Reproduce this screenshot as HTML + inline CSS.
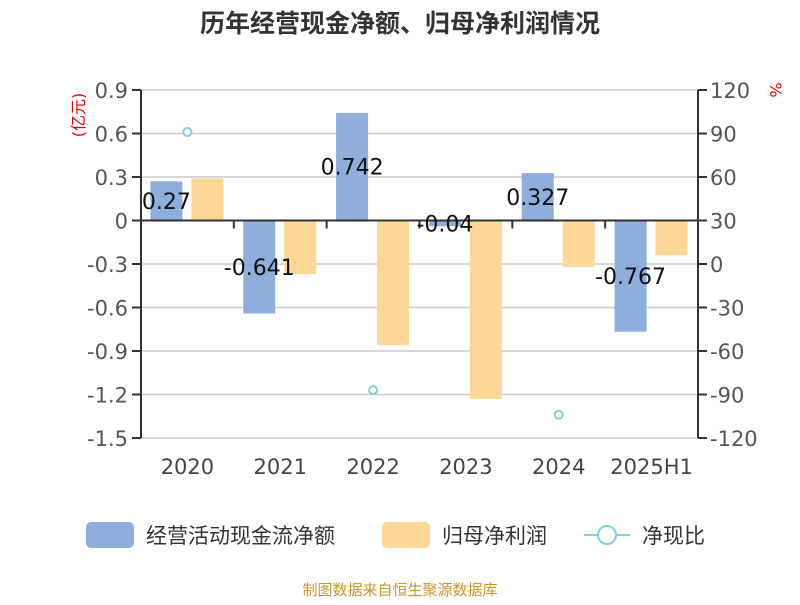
<!DOCTYPE html>
<html><head><meta charset="utf-8"><style>
body{margin:0;background:#fff;}
svg text{font-family:"DejaVu Sans","Liberation Sans","Noto Sans CJK SC",sans-serif;}
</style></head><body>
<svg id="c" width="800" height="600" xmlns="http://www.w3.org/2000/svg">
<text x="400" y="32" text-anchor="middle" font-size="25" font-weight="bold" fill="#333">历年经营现金净额、归母净利润情况</text>
<text transform="translate(84,115) rotate(-90)" text-anchor="middle" font-size="16" fill="#e00">(亿元)</text>
<text transform="translate(770,90) rotate(90)" text-anchor="middle" font-size="16" fill="#e00">%</text>
<g id="grid"></g><g id="bars"></g><g id="axes"></g><g id="labels"></g><g id="pts"></g>
<g>
<rect x="86" y="522" width="48" height="26" rx="5" fill="#8eaedc"/>
<text x="146" y="543" font-size="21" fill="#333">经营活动现金流净额</text>
<rect x="382" y="522" width="48" height="26" rx="5" fill="#fdd797"/>
<text x="442" y="543" font-size="21" fill="#333">归母净利润</text>
<line x1="584" y1="535" x2="630" y2="535" stroke="#86d0d8" stroke-width="2"/>
<circle cx="607" cy="535" r="9" fill="#fff" stroke="#86d0d8" stroke-width="2"/>
<text x="642" y="543" font-size="21" fill="#333">净现比</text>
</g>
<text x="400" y="595" text-anchor="middle" font-size="15" fill="#c8962a">制图数据来自恒生聚源数据库</text>
</svg>
<script>
const categories=["2020","2021","2022","2023","2024","2025H1"];
const cashflow=[0.27,-0.641,0.742,-0.04,0.327,-0.767];
const profit=[0.29,-0.37,-0.86,-1.23,-0.32,-0.24];
const ratio=[91,null,-87,null,-104,null];
const leftTicks=["0.9","0.6","0.3","0","-0.3","-0.6","-0.9","-1.2","-1.5"];
const rightTicks=["120","90","60","30","0","-30","-60","-90","-120"];
const NS="http://www.w3.org/2000/svg";
const X0=141,X1=698,Y0=90,Y1=438;
const yL=v=>Y0+(0.9-v)/2.4*(Y1-Y0);
const yR=v=>Y0+(120-v)/240*(Y1-Y0);
const bw=(X1-X0)/categories.length;
const xC=i=>X0+bw*(i+0.5);
function mk(tag,attrs,parent,txt){const e=document.createElementNS(NS,tag);for(const k in attrs)e.setAttribute(k,attrs[k]);if(txt!=null)e.textContent=txt;document.getElementById(parent).appendChild(e);return e;}
leftTicks.forEach((t,i)=>{const y=Y0+i*(Y1-Y0)/8;
 let g=mk('line',{x1:X0,x2:X1,y1:y,y2:y,stroke:'#ccc','stroke-width':1.5},'grid');
 
 let a=mk('line',{x1:X0-9,x2:X0,y1:y,y2:y,stroke:'#333','stroke-width':2},'axes');
 
 let l=mk('text',{x:X0-13,y:y+8,'text-anchor':'end','font-size':21,fill:'#555'},'axes',t);
 
 let b=mk('line',{x1:X1,x2:X1+9,y1:y,y2:y,stroke:'#333','stroke-width':2},'axes');
 
 let r=mk('text',{x:X1+12,y:y+8,'font-size':21,fill:'#555'},'axes',rightTicks[i]);
 
});
let la=mk('line',{x1:X0,x2:X0,y1:Y0,y2:Y1,stroke:'#333','stroke-width':2},'axes');

let ra=mk('line',{x1:X1,x2:X1,y1:Y0,y2:Y1,stroke:'#333','stroke-width':2},'axes');

let z=mk('line',{x1:X0,x2:X1,y1:yL(0),y2:yL(0),stroke:'#333','stroke-width':2},'axes');

categories.forEach((c,i)=>{
 const xb=X0+bw*i;
 let t=mk('line',{x1:xb,x2:xb,y1:yL(0),y2:yL(0)+8,stroke:'#333','stroke-width':2},'axes');
 
 let l=mk('text',{x:xC(i),y:474,'text-anchor':'middle','font-size':21,fill:'#444'},'axes',c);
 
 const v=cashflow[i],y=yL(v),y0=yL(0);
 let b=mk('rect',{x:xC(i)-37,y:Math.min(y,y0),width:32,height:Math.abs(y-y0),fill:'#8eaedc'},'bars');
 
 const p=profit[i],yp=yL(p);
 let b2=mk('rect',{x:xC(i)+4,y:Math.min(yp,y0),width:32,height:Math.abs(yp-y0),fill:'#fdd797'},'bars');
 
 let vl=mk('text',{x:xC(i)-21,y:(y+y0)/2+8,'text-anchor':'middle','font-size':22,fill:'#111'},'labels',String(v));
 
 if(ratio[i]!=null){let pt=mk('circle',{cx:xC(i),cy:yR(ratio[i]),r:4,fill:'#fff',stroke:'#86d0d8','stroke-width':2},'pts');
 }
});
</script>
</body></html>
